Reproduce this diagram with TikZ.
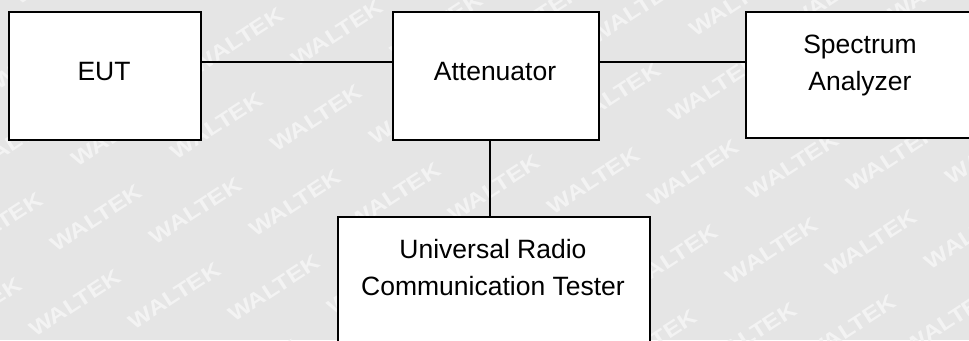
\documentclass[tikz,border=0pt]{standalone}
\usepackage{fontspec}
\setmainfont{Liberation Sans}
\definecolor{bggray}{HTML}{E5E5E5}
\definecolor{wmark}{HTML}{F3F3F3}
\tikzset{
  box/.style={draw=black, line width=1.5pt, fill=white, rectangle, inner sep=0pt},
  lbl/.style={font=\fontsize{26.5}{37}\selectfont, align=center, inner sep=0pt},
  wire/.style={draw=black, line width=1.5pt},
  wm/.style={font=\fontsize{21}{21}\selectfont\bfseries, text=wmark, rotate=33, xscale=1.2, inner sep=0pt}
}
\begin{document}
\begin{tikzpicture}[x=1pt, y=-1pt]
\useasboundingbox (0,0) rectangle (969,340);
\clip (0,0) rectangle (969,340);
\fill[bggray] (0,0) rectangle (969,340);
% watermark
\foreach \i in {-3,...,11}{
  \foreach \j in {-4,...,3}{
    \node[wm] (w\i\j) at ({96+\i*99.5-\j*21},{218-\i*7.5+\j*85}) {WALTEK};
  }
}
% boxes
\node[box, minimum width=192pt, minimum height=128pt, anchor=north west] (eut) at (8,11) {};
\node[lbl, anchor=base] (euttext) at (104,80) {EUT};
\node[box, minimum width=206pt, minimum height=128pt, anchor=north west] (att) at (392,11) {};
\node[lbl, anchor=base] (atttext) at (495,80) {Attenuator};
\node[box, minimum width=230pt, minimum height=126pt, anchor=north west] (sa) at (745,11) {};
\node[lbl] (satext) at (860,65.7) {Spectrum\\Analyzer};
\node[box, minimum width=312pt, minimum height=150pt, anchor=north west] (tester) at (337,216) {};
\node[lbl] (testertext) at (493,267.7) {Universal Radio\\Communication Tester};
% connectors
\draw[wire] ([yshift=-51pt]eut.north east) -- ([yshift=-51pt]att.north west);
\draw[wire] ([yshift=-51pt]att.north east) -- ([yshift=-51pt]sa.north west);
\draw[wire] ([xshift=-6pt]att.south) -- ([xshift=-6pt]att.south |- tester.north);
\end{tikzpicture}
\end{document}
